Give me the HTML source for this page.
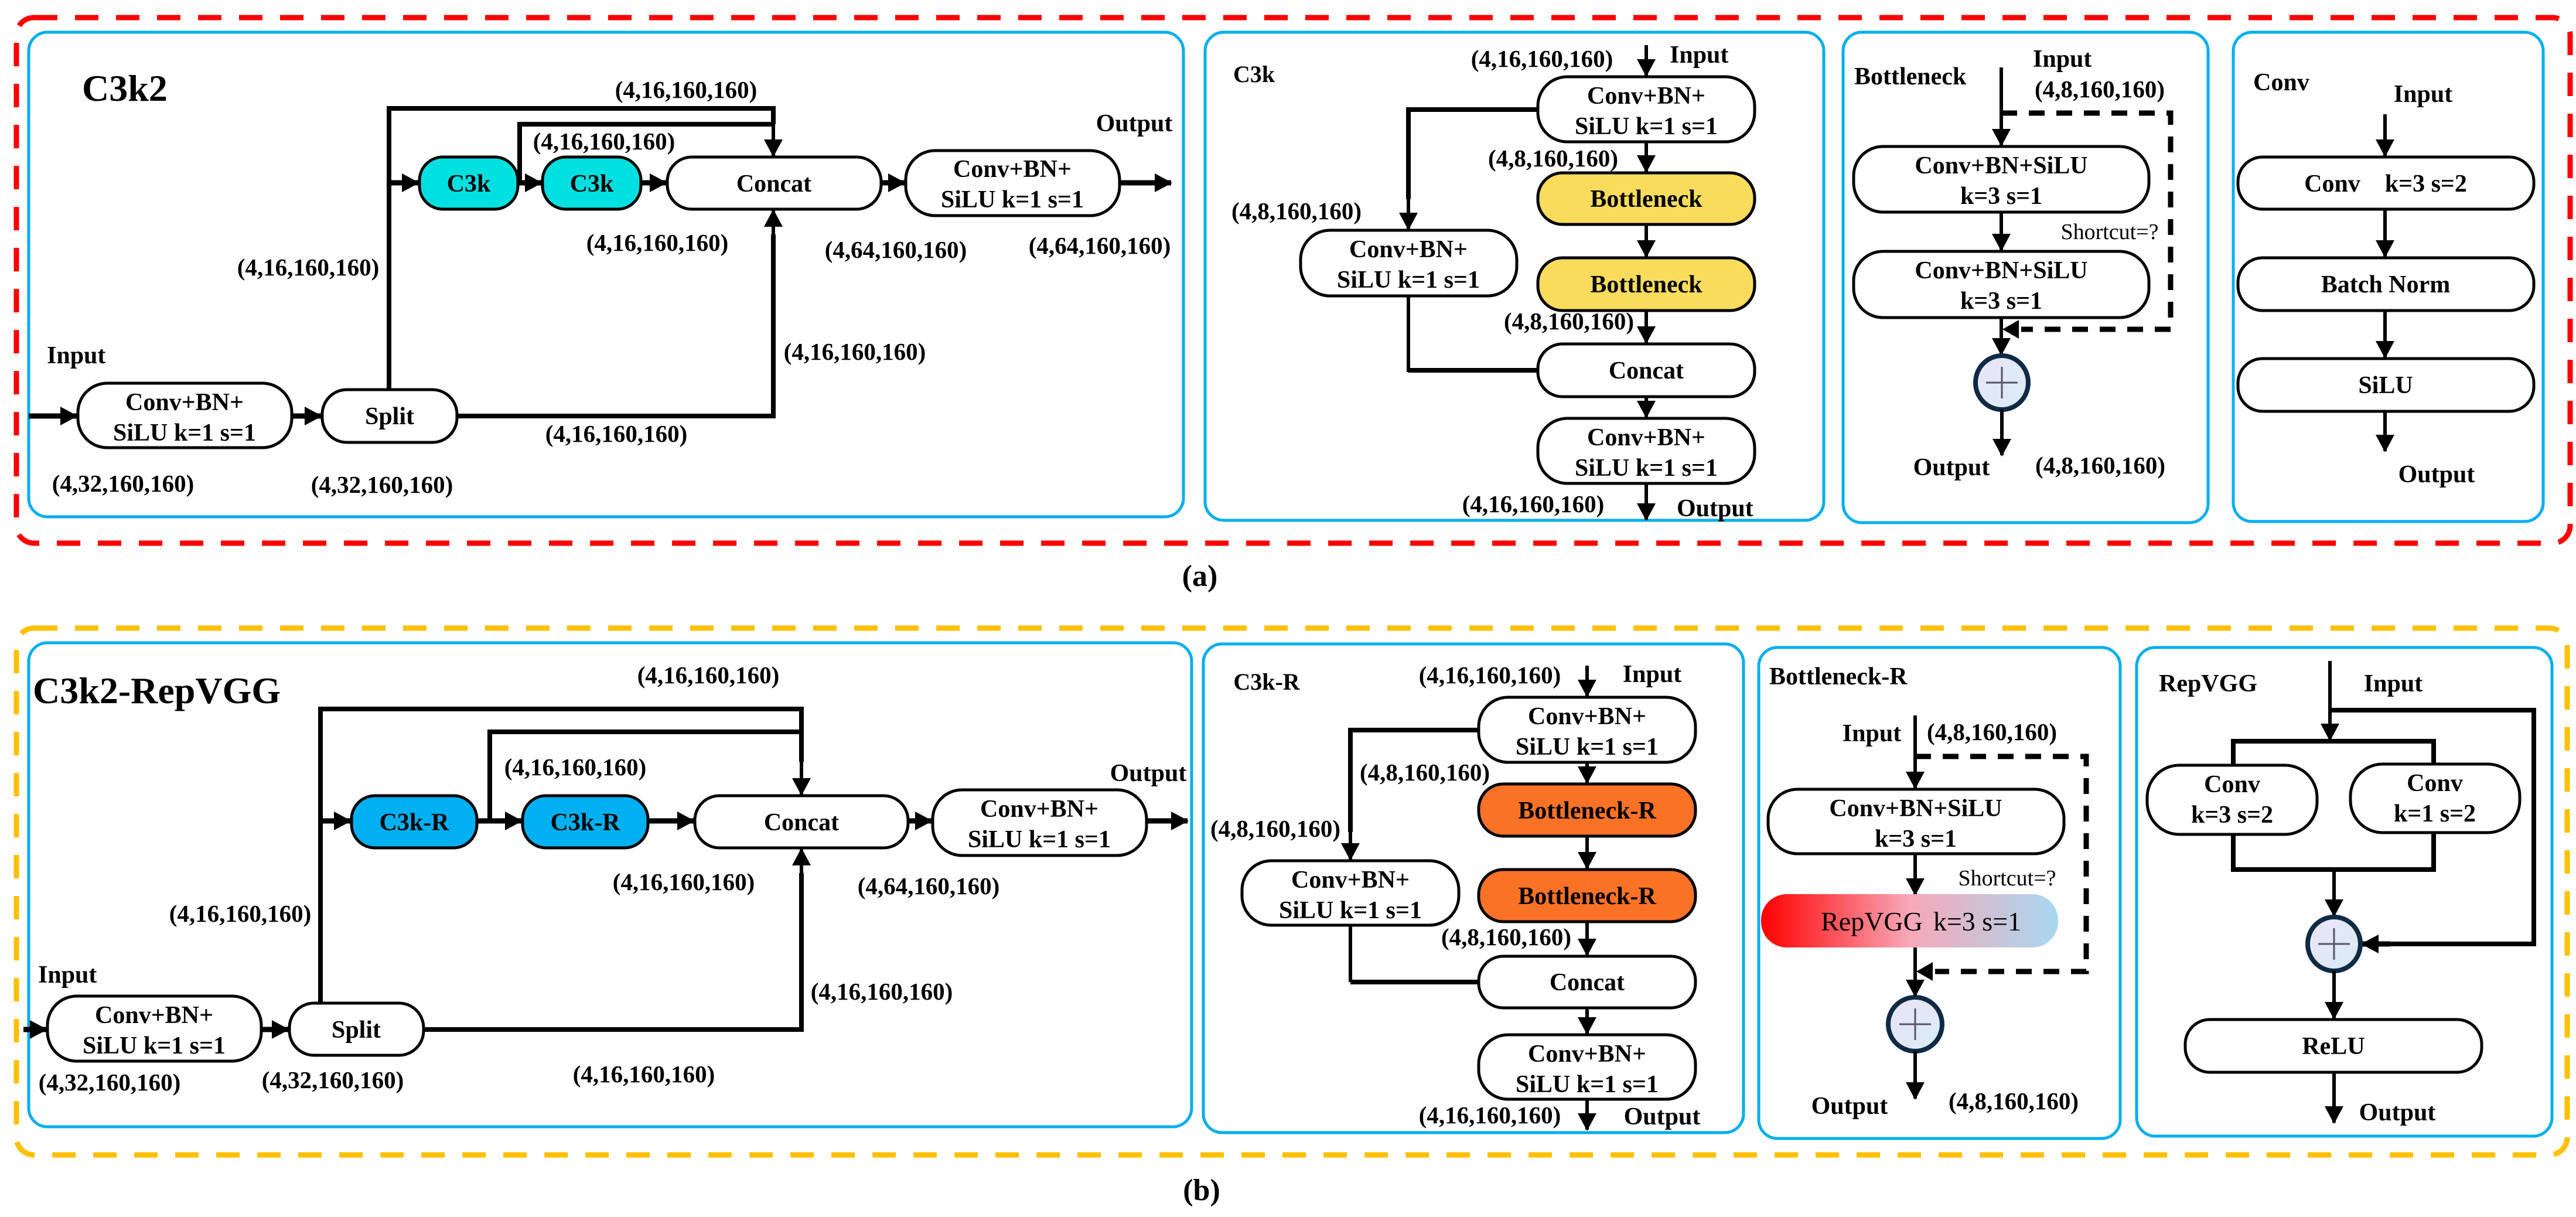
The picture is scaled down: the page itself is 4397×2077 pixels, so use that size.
<!DOCTYPE html>
<html><head><meta charset="utf-8"><style>
html,body{margin:0;padding:0;background:#fff;}
svg{display:block;}
text{font-family:"Liberation Serif",serif;fill:#000;}
.b{font-weight:bold;}
</style></head><body>
<svg width="4397" height="2077" viewBox="0 0 4397 2077" xmlns="http://www.w3.org/2000/svg">
<defs>
<marker id="ah" markerUnits="userSpaceOnUse" markerWidth="30" markerHeight="32" refX="28" refY="16" orient="auto">
<path d="M0,0 L30,16 L0,32 z" fill="#000"/>
</marker>
<linearGradient id="gr" x1="0" x2="1" y1="0" y2="0">
<stop offset="0" stop-color="#ff0000"/>
<stop offset="0.5" stop-color="#f7a8b8"/>
<stop offset="1" stop-color="#a8d8f0"/>
</linearGradient>
<linearGradient id="cg" x1="0" x2="1" y1="0" y2="1">
<stop offset="0" stop-color="#ebe4f8"/>
<stop offset="1" stop-color="#d8ecf8"/>
</linearGradient>
</defs>
<style>
.ln{stroke:#000;stroke-width:8;fill:none;}
.lt{stroke:#000;stroke-width:6;fill:none;}
.ar{stroke:#000;stroke-width:6;fill:none;marker-end:url(#ah);}
.arT{stroke:#000;stroke-width:9;fill:none;marker-end:url(#ah);}
.ds{stroke:#000;stroke-width:9;fill:none;stroke-dasharray:27 20;}
.bx{stroke:#000;stroke-width:5;fill:#fff;}
.pn{stroke:#00aeef;stroke-width:5;fill:none;}
.lb{font-size:41px;font-weight:bold;text-anchor:middle;}
.bt{font-size:42px;font-weight:bold;text-anchor:middle;}
</style>

<!-- outer dashed frames -->
<rect x="28" y="30" width="4359" height="897" rx="30" fill="none" stroke="#ff0000" stroke-width="9" stroke-dasharray="40 30"/>
<rect x="28" y="1072" width="4354" height="899" rx="30" fill="none" stroke="#ffc000" stroke-width="9" stroke-dasharray="40 30"/>
<text x="2048" y="1000" font-size="52" class="b" text-anchor="middle">(a)</text>
<text x="2051" y="2048" font-size="52" class="b" text-anchor="middle">(b)</text>

<!-- panels a -->
<rect class="pn" x="49" y="55" width="1971" height="827" rx="32"/>
<rect class="pn" x="2057" y="55" width="1056" height="833" rx="32"/>
<rect class="pn" x="3146" y="55" width="623" height="837" rx="32"/>
<rect class="pn" x="3812" y="55" width="529" height="835" rx="32"/>
<!-- panels b -->
<rect class="pn" x="49" y="1097" width="1985" height="826" rx="32"/>
<rect class="pn" x="2054" y="1099" width="922" height="834" rx="32"/>
<rect class="pn" x="3002" y="1105" width="617" height="838" rx="32"/>
<rect class="pn" x="3647" y="1105" width="709" height="834" rx="32"/>

<!-- ===== Panel a1: C3k2 ===== -->
<text x="140" y="172" font-size="64" class="b">C3k2</text>
<path class="arT" d="M49,710 L131,710"/>
<rect class="bx" x="133" y="654" width="365" height="110" rx="50"/>
<text class="bt" x="315" y="700">Conv+BN+</text>
<text class="bt" x="315" y="752">SiLU k=1 s=1</text>
<path class="arT" d="M498,710 L548,710"/>
<rect class="bx" x="550" y="665" width="230" height="90" rx="42"/>
<text class="bt" x="665" y="724">Split</text>
<path class="ln" d="M664,665 L664,185 L1320,185 L1320,212"/>
<path class="ar" d="M1320,210 L1320,266"/>
<path class="arT" d="M664,312 L714,312"/>
<rect x="716" y="268" width="168" height="89" rx="40" fill="#00e0e0" stroke="#000" stroke-width="5"/>
<text class="bt" x="800" y="327">C3k</text>
<path class="arT" d="M884,312 L924,312"/>
<rect x="926" y="268" width="168" height="89" rx="40" fill="#00e0e0" stroke="#000" stroke-width="5"/>
<text class="bt" x="1010" y="327">C3k</text>
<path class="ln" d="M887,312 L887,212 L1320,212"/>
<path class="arT" d="M1094,312 L1137,312"/>
<rect class="bx" x="1139" y="268" width="365" height="89" rx="42"/>
<text class="bt" x="1321" y="327">Concat</text>
<path class="ln" d="M780,710 L1320,710 L1320,400"/>
<path class="ar" d="M1320,405 L1320,359"/>
<path class="arT" d="M1504,312 L1544,312"/>
<rect class="bx" x="1546" y="257" width="365" height="111" rx="50"/>
<text class="bt" x="1728" y="302">Conv+BN+</text>
<text class="bt" x="1728" y="354">SiLU k=1 s=1</text>
<path class="arT" d="M1911,312 L1999,312"/>
<text x="1936" y="224" font-size="42" class="b" text-anchor="middle">Output</text>
<text class="lb" x="1171" y="167">(4,16,160,160)</text>
<text class="lb" x="1031" y="255">(4,16,160,160)</text>
<text class="lb" x="1122" y="428">(4,16,160,160)</text>
<text class="lb" x="1529" y="440">(4,64,160,160)</text>
<text class="lb" x="1877" y="433">(4,64,160,160)</text>
<text class="lb" x="526" y="470">(4,16,160,160)</text>
<text x="80" y="620" font-size="42" class="b">Input</text>
<text class="lb" x="1459" y="614">(4,16,160,160)</text>
<text class="lb" x="1052" y="754">(4,16,160,160)</text>
<text class="lb" x="210" y="839">(4,32,160,160)</text>
<text class="lb" x="652" y="841">(4,32,160,160)</text>

<!-- ===== Panel a2: C3k ===== -->
<text x="2105" y="140" font-size="40" class="b">C3k</text>
<path class="ar" d="M2810,77 L2810,129"/>
<text x="2850" y="107" font-size="42" class="b">Input</text>
<text class="lb" x="2632" y="114">(4,16,160,160)</text>
<rect class="bx" x="2625" y="131" width="370" height="111" rx="50"/>
<text class="bt" x="2810" y="177">Conv+BN+</text>
<text class="bt" x="2810" y="229">SiLU k=1 s=1</text>
<path class="ar" d="M2810,242 L2810,293"/>
<text class="lb" x="2651" y="284">(4,8,160,160)</text>
<rect x="2625" y="295" width="370" height="88" rx="42" fill="#fadc5c" stroke="#000" stroke-width="5"/>
<text class="bt" x="2810" y="353">Bottleneck</text>
<path class="ar" d="M2810,383 L2810,438"/>
<rect x="2625" y="440" width="370" height="90" rx="42" fill="#fadc5c" stroke="#000" stroke-width="5"/>
<text class="bt" x="2810" y="499">Bottleneck</text>
<path class="ar" d="M2810,530 L2810,585"/>
<text class="lb" x="2678" y="562">(4,8,160,160)</text>
<rect class="bx" x="2625" y="587" width="370" height="90" rx="42"/>
<text class="bt" x="2810" y="646">Concat</text>
<path class="ar" d="M2810,677 L2810,712"/>
<rect class="bx" x="2625" y="714" width="370" height="111" rx="50"/>
<text class="bt" x="2810" y="760">Conv+BN+</text>
<text class="bt" x="2810" y="812">SiLU k=1 s=1</text>
<path class="ar" d="M2810,825 L2810,887"/>
<text class="lb" x="2617" y="874">(4,16,160,160)</text>
<text x="2862" y="881" font-size="42" class="b">Output</text>
<path class="ln" d="M2625,187 L2404,187 L2404,340"/>
<path class="ar" d="M2404,335 L2404,391"/>
<text class="lb" x="2213" y="374">(4,8,160,160)</text>
<rect class="bx" x="2220" y="393" width="369" height="112" rx="50"/>
<text class="bt" x="2404" y="439">Conv+BN+</text>
<text class="bt" x="2404" y="491">SiLU k=1 s=1</text>
<path class="lt" d="M2404,505 L2404,632 L2625,632"/>
<path class="ln" d="M2404,632 L2625,632"/>

<!-- ===== Panel a3: Bottleneck ===== -->
<text x="3165" y="144" font-size="42" class="b">Bottleneck</text>
<path class="ar" d="M3416,115 L3416,248"/>
<text x="3470" y="114" font-size="42" class="b">Input</text>
<text class="lb" x="3584" y="166">(4,8,160,160)</text>
<path class="ds" d="M3416,193 L3705,193 L3705,562 L3450,562"/>
<path d="M3418,562 L3446,546 L3446,578 z" fill="#000"/>
<rect class="bx" x="3164" y="250" width="504" height="112" rx="50"/>
<text class="bt" x="3416" y="296">Conv+BN+SiLU</text>
<text class="bt" x="3416" y="348">k=3 s=1</text>
<path class="ar" d="M3416,362 L3416,427"/>
<text x="3601" y="408" font-size="38" text-anchor="middle">Shortcut=?</text>
<rect class="bx" x="3164" y="429" width="504" height="113" rx="50"/>
<text class="bt" x="3416" y="475">Conv+BN+SiLU</text>
<text class="bt" x="3416" y="527">k=3 s=1</text>
<path class="ar" d="M3416,542 L3416,605"/>
<ellipse cx="3417" cy="653" rx="45" ry="46" fill="url(#cg)" stroke="#0f2a44" stroke-width="8"/>
<path d="M3390,653 L3444,653 M3417,626 L3417,680" stroke="#556" stroke-width="3"/>
<path class="ar" d="M3417,699 L3417,777"/>
<text x="3331" y="811" font-size="42" class="b" text-anchor="middle">Output</text>
<text class="lb" x="3585" y="808">(4,8,160,160)</text>

<!-- ===== Panel a4: Conv ===== -->
<text x="3894" y="154" font-size="42" class="b" text-anchor="middle">Conv</text>
<text x="4136" y="174" font-size="42" class="b" text-anchor="middle">Input</text>
<path class="ar" d="M4071,195 L4071,266"/>
<rect class="bx" x="3820" y="268" width="505" height="89" rx="42"/>
<text class="bt" x="4072" y="327" xml:space="preserve">Conv    k=3 s=2</text>
<path class="ar" d="M4071,357 L4071,438"/>
<rect class="bx" x="3820" y="440" width="505" height="90" rx="42"/>
<text class="bt" x="4072" y="499">Batch Norm</text>
<path class="ar" d="M4071,530 L4071,610"/>
<rect class="bx" x="3820" y="612" width="505" height="90" rx="42"/>
<text class="bt" x="4072" y="671">SiLU</text>
<path class="ar" d="M4071,702 L4071,770"/>
<text x="4159" y="823" font-size="42" class="b" text-anchor="middle">Output</text>

<!-- ===== Panel b1: C3k2-RepVGG ===== -->
<text x="56" y="1200" font-size="64" class="b">C3k2-RepVGG</text>
<path class="arT" d="M40,1757 L79,1757"/>
<rect class="bx" x="81" y="1700" width="365" height="111" rx="50"/>
<text class="bt" x="263" y="1746">Conv+BN+</text>
<text class="bt" x="263" y="1798">SiLU k=1 s=1</text>
<path class="arT" d="M446,1757 L492,1757"/>
<rect class="bx" x="494" y="1712" width="229" height="89" rx="42"/>
<text class="bt" x="608" y="1771">Split</text>
<path class="ln" d="M547,1712 L547,1210 L1368,1210 L1368,1300"/>
<path class="ar" d="M1368,1295 L1368,1356"/>
<path class="arT" d="M547,1401 L598,1401"/>
<rect x="600" y="1358" width="214" height="89" rx="40" fill="#00b0f0" stroke="#000" stroke-width="5"/>
<text class="bt" x="707" y="1417">C3k-R</text>
<path class="arT" d="M814,1401 L890,1401"/>
<rect x="892" y="1358" width="214" height="89" rx="40" fill="#00b0f0" stroke="#000" stroke-width="5"/>
<text class="bt" x="999" y="1417">C3k-R</text>
<path class="ln" d="M836,1401 L836,1249 L1368,1249"/>
<path class="arT" d="M1106,1401 L1184,1401"/>
<rect class="bx" x="1186" y="1358" width="364" height="89" rx="42"/>
<text class="bt" x="1368" y="1417">Concat</text>
<path class="ln" d="M723,1757 L1368,1757 L1368,1490"/>
<path class="ar" d="M1368,1495 L1368,1449"/>
<path class="arT" d="M1550,1401 L1590,1401"/>
<rect class="bx" x="1592" y="1348" width="365" height="112" rx="50"/>
<text class="bt" x="1774" y="1394">Conv+BN+</text>
<text class="bt" x="1774" y="1446">SiLU k=1 s=1</text>
<path class="arT" d="M1957,1401 L2027,1401"/>
<text x="1960" y="1333" font-size="42" class="b" text-anchor="middle">Output</text>
<text class="lb" x="1209" y="1166">(4,16,160,160)</text>
<text class="lb" x="982" y="1323">(4,16,160,160)</text>
<text class="lb" x="1167" y="1519">(4,16,160,160)</text>
<text class="lb" x="1585" y="1526">(4,64,160,160)</text>
<text class="lb" x="410" y="1573">(4,16,160,160)</text>
<text x="65" y="1677" font-size="42" class="b">Input</text>
<text class="lb" x="1505" y="1706">(4,16,160,160)</text>
<text class="lb" x="187" y="1861">(4,32,160,160)</text>
<text class="lb" x="568" y="1857">(4,32,160,160)</text>
<text class="lb" x="1099" y="1847">(4,16,160,160)</text>

<!-- ===== Panel b2: C3k-R ===== -->
<text x="2162" y="1177" font-size="40" class="b" text-anchor="middle">C3k-R</text>
<text class="lb" x="2543" y="1166">(4,16,160,160)</text>
<path class="ar" d="M2709,1136 L2709,1188"/>
<text x="2820" y="1164" font-size="42" class="b" text-anchor="middle">Input</text>
<rect class="bx" x="2524" y="1190" width="370" height="111" rx="50"/>
<text class="bt" x="2709" y="1236">Conv+BN+</text>
<text class="bt" x="2709" y="1288">SiLU k=1 s=1</text>
<text class="lb" x="2432" y="1332">(4,8,160,160)</text>
<path class="ar" d="M2709,1301 L2709,1336"/>
<rect x="2524" y="1338" width="370" height="89" rx="42" fill="#f97226" stroke="#000" stroke-width="5"/>
<text class="bt" x="2709" y="1397">Bottleneck-R</text>
<path class="ar" d="M2709,1427 L2709,1482"/>
<rect x="2524" y="1484" width="370" height="89" rx="42" fill="#f97226" stroke="#000" stroke-width="5"/>
<text class="bt" x="2709" y="1543">Bottleneck-R</text>
<text class="lb" x="2571" y="1613">(4,8,160,160)</text>
<path class="ar" d="M2709,1573 L2709,1630"/>
<rect class="bx" x="2524" y="1632" width="370" height="88" rx="42"/>
<text class="bt" x="2709" y="1690">Concat</text>
<path class="ar" d="M2709,1720 L2709,1764"/>
<rect class="bx" x="2524" y="1766" width="370" height="110" rx="50"/>
<text class="bt" x="2709" y="1812">Conv+BN+</text>
<text class="bt" x="2709" y="1864">SiLU k=1 s=1</text>
<path class="ar" d="M2709,1876 L2709,1928"/>
<text class="lb" x="2543" y="1917">(4,16,160,160)</text>
<text x="2837" y="1919" font-size="42" class="b" text-anchor="middle">Output</text>
<path class="ln" d="M2524,1246 L2305,1246 L2305,1420"/>
<path class="ar" d="M2305,1410 L2305,1467"/>
<text class="lb" x="2177" y="1428">(4,8,160,160)</text>
<rect class="bx" x="2120" y="1469" width="370" height="110" rx="50"/>
<text class="bt" x="2305" y="1515">Conv+BN+</text>
<text class="bt" x="2305" y="1567">SiLU k=1 s=1</text>
<path class="lt" d="M2305,1579 L2305,1676"/>
<path class="ln" d="M2305,1676 L2524,1676"/>

<!-- ===== Panel b3: Bottleneck-R ===== -->
<text x="3020" y="1168" font-size="42" class="b">Bottleneck-R</text>
<text x="3195" y="1265" font-size="42" class="b" text-anchor="middle">Input</text>
<text class="lb" x="3400" y="1263">(4,8,160,160)</text>
<path class="ar" d="M3269,1221 L3269,1345"/>
<path class="ds" d="M3269,1291 L3561,1291 L3561,1658 L3303,1658"/>
<path d="M3271,1658 L3299,1642 L3299,1674 z" fill="#000"/>
<rect class="bx" x="3018" y="1347" width="505" height="110" rx="50"/>
<text class="bt" x="3270" y="1393">Conv+BN+SiLU</text>
<text class="bt" x="3270" y="1445">k=3 s=1</text>
<path class="ar" d="M3269,1457 L3269,1527"/>
<text x="3426" y="1511" font-size="38" text-anchor="middle">Shortcut=?</text>
<rect x="3006" y="1526" width="507" height="91" rx="44" fill="url(#gr)"/>
<text x="3195" y="1588" font-size="46" text-anchor="middle">RepVGG</text>
<text x="3375" y="1588" font-size="46" text-anchor="middle">k=3 s=1</text>
<path class="ar" d="M3269,1617 L3269,1700"/>
<ellipse cx="3269" cy="1748" rx="46" ry="46" fill="url(#cg)" stroke="#0f2a44" stroke-width="8"/>
<path d="M3242,1748 L3296,1748 M3269,1721 L3269,1775" stroke="#556" stroke-width="3"/>
<path class="ar" d="M3269,1794 L3269,1875"/>
<text x="3157" y="1901" font-size="42" class="b" text-anchor="middle">Output</text>
<text class="lb" x="3437" y="1893">(4,8,160,160)</text>

<!-- ===== Panel b4: RepVGG ===== -->
<text x="3769" y="1180" font-size="42" class="b" text-anchor="middle">RepVGG</text>
<text x="4085" y="1180" font-size="42" class="b" text-anchor="middle">Input</text>
<path class="lt" d="M3977,1128 L3977,1212"/>
<path class="ar" d="M3977,1210 L3977,1263"/>
<path class="ln" d="M3977,1212 L4325,1212 L4325,1611 L4070,1611"/>
<path class="arT" d="M4080,1611 L4032,1611"/>
<path class="ln" d="M3812,1305 L3812,1265 L4154,1265 L4154,1304"/>
<rect class="bx" x="3665" y="1306" width="290" height="118" rx="55"/>
<text class="bt" x="3810" y="1352">Conv</text>
<text class="bt" x="3810" y="1404">k=3 s=2</text>
<rect class="bx" x="4012" y="1304" width="289" height="117" rx="55"/>
<text class="bt" x="4156" y="1350">Conv</text>
<text class="bt" x="4156" y="1402">k=1 s=2</text>
<path class="ln" d="M3812,1424 L3812,1484 L4154,1484 L4154,1421"/>
<path class="ar" d="M3984,1484 L3984,1563"/>
<ellipse cx="3984" cy="1611" rx="45" ry="46" fill="url(#cg)" stroke="#0f2a44" stroke-width="8"/>
<path d="M3957,1611 L4011,1611 M3984,1584 L3984,1638" stroke="#556" stroke-width="3"/>
<path class="ar" d="M3984,1657 L3984,1738"/>
<rect class="bx" x="3730" y="1740" width="506" height="90" rx="42"/>
<text class="bt" x="3983" y="1799">ReLU</text>
<path class="ar" d="M3984,1830 L3984,1916"/>
<text x="4092" y="1912" font-size="42" class="b" text-anchor="middle">Output</text>
</svg>
</body></html>
